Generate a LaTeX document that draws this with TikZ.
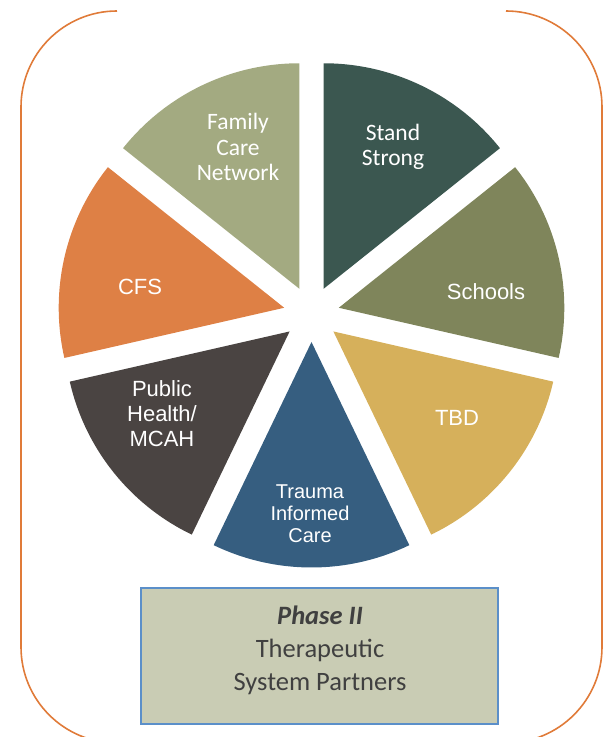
\documentclass[tikz,border=0pt]{standalone}
\usepackage{fontspec}
\setmainfont{Carlito}
\newfontfamily\calfont{Carlito}
\newfontfamily\frankfont{Liberation Sans}
\usepackage{tikz}
\usetikzlibrary{positioning}
\definecolor{standgreen}{HTML}{3B5750}
\definecolor{schoololive}{HTML}{7F855B}
\definecolor{tbdgold}{HTML}{D6B05B}
\definecolor{traumablue}{HTML}{365E80}
\definecolor{healthgray}{HTML}{4A4442}
\definecolor{cfsorange}{HTML}{DE8045}
\definecolor{familysage}{HTML}{A3AA81}
\definecolor{framecol}{HTML}{E07B39}
\definecolor{boxfill}{HTML}{C9CCB4}
\definecolor{boxblue}{HTML}{5B8FC9}
\definecolor{boxtext}{HTML}{404040}
\tikzset{
    frameline/.style = {draw=framecol, line width=1.6pt},
    slicelab/.style = {text=white, align=center, inner sep=0pt, font=\frankfont\fontsize{22}{25}\selectfont},
    slicelabc/.style = {text=white, align=center, inner sep=0pt, font=\calfont\fontsize{23.5}{25.5}\selectfont},
    phasebox/.style = {rectangle, draw=boxblue, line width=2pt, fill=boxfill, minimum width=357pt, minimum height=136pt},
    phasetxt/.style = {align=center, text=boxtext, inner sep=0pt, font=\calfont\fontsize{26.5}{33}\selectfont}
}
\newcommand{\sliceR}{225.5pt}

\begin{document}
\begin{tikzpicture}[x=1pt,y=1pt]
\useasboundingbox (0,0) rectangle (605,737);
\clip (0,0) rectangle (605,737);
% open frame
\draw[frameline] (117,726) arc[start angle=90, end angle=180, radius=96pt] -- (21,90)
    arc[start angle=180, end angle=270, radius=96pt] -- (506,-6)
    arc[start angle=270, end angle=360, radius=96pt] -- (602,630)
    arc[start angle=0, end angle=90, radius=96pt];
%
\coordinate (C) at (311.5,423);
\coordinate (pstand) at ([shift={(64.29:28pt)}]C);
\coordinate (pfam) at ([shift={(115.71:28pt)}]C);
\coordinate (pcfs) at ([shift={(167.14:28pt)}]C);
\coordinate (phealth) at ([shift={(218.57:28pt)}]C);
\coordinate (ptrauma) at ([shift={(270:28pt)}]C);
\coordinate (ptbd) at ([shift={(321.43:28pt)}]C);
\coordinate (pschool) at ([shift={(12.86:28pt)}]C);
%
\fill[standgreen] (pstand) -- ++(38.57:\sliceR) arc[start angle=38.57, end angle=90, radius=\sliceR] -- cycle;
\fill[familysage] (pfam) -- ++(90:\sliceR) arc[start angle=90, end angle=141.43, radius=\sliceR] -- cycle;
\fill[cfsorange] (pcfs) -- ++(141.43:\sliceR) arc[start angle=141.43, end angle=192.86, radius=\sliceR] -- cycle;
\fill[healthgray] (phealth) -- ++(192.86:\sliceR) arc[start angle=192.86, end angle=244.29, radius=\sliceR] -- cycle;
\fill[traumablue] (ptrauma) -- ++(244.29:\sliceR) arc[start angle=244.29, end angle=295.71, radius=\sliceR] -- cycle;
\fill[tbdgold] (ptbd) -- ++(295.71:\sliceR) arc[start angle=295.71, end angle=347.14, radius=\sliceR] -- cycle;
\fill[schoololive] (pschool) -- ++(347.14:\sliceR) arc[start angle=347.14, end angle=398.57, radius=\sliceR] -- cycle;
%
\node[slicelabc] at (238,590) (fam) {Family\\Care\\Network};
\node[slicelabc] at (393,590) (stand) {Stand\\Strong};
\node[slicelab] at (486,445) (school) {Schools};
\node[slicelab] at (457,319) (tbd) {TBD};
\node[slicelab] at (140,450) (cfs) {CFS};
\node[slicelab] at (162,323) (health) {Public\\Health/\\MCAH};
\node[slicelab, font=\frankfont\fontsize{20}{22}\selectfont] at (310,223) (trauma) {Trauma\\Informed\\Care};
%
\node[phasebox] at (319.5,81) (box) {};
\node[phasetxt] at (320,87) (phase) {\textbf{\textit{Phase II}}\\Therapeutic\\System Partners};
\end{tikzpicture}
\end{document}
